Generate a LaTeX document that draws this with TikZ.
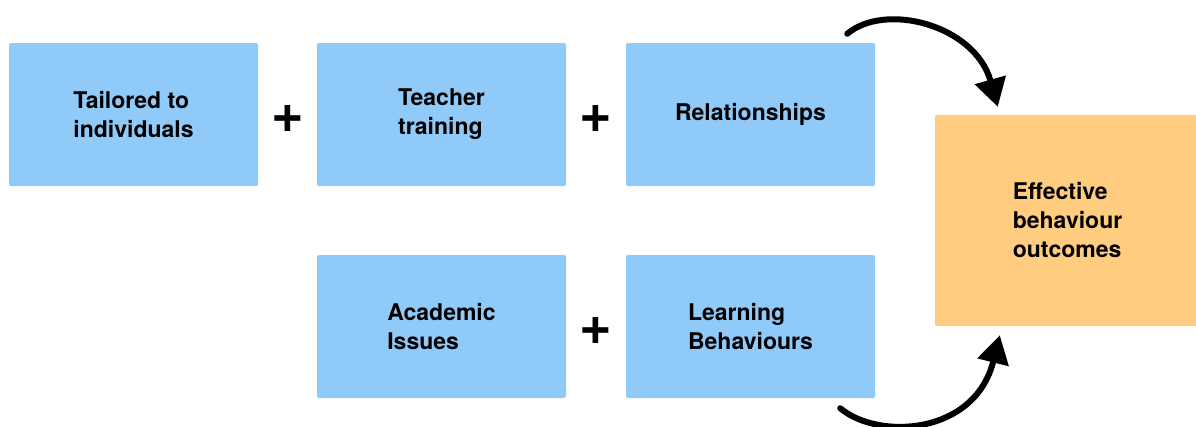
\documentclass[tikz,border=0pt]{standalone}
\usepackage{fontspec}
\setmainfont{TeX Gyre Heros}
\usetikzlibrary{arrows.meta,calc}
\definecolor{boxblue}{HTML}{90CAF9}
\definecolor{boxorange}{HTML}{FFCC80}
\tikzset{
	factor/.style={fill=boxblue, rounded corners=2pt, minimum width=249pt, minimum height=143pt, align=left, font=\fontsize{23}{29}\selectfont\bfseries},
	outcome/.style={factor, fill=boxorange, minimum width=265pt, minimum height=211pt},
	plus/.style={font=\fontsize{56}{56}\selectfont\bfseries},
	bend arrow/.style={line width=6pt, line cap=round, -{Triangle[length=28pt,width=31pt]}}
}

\begin{document}
\begin{tikzpicture}[x=1pt, y=-1pt]
		%%%%% START %%%%%
		\useasboundingbox (0, 0) rectangle (1196, 426);
		
		\node[factor] (tail) at (133.5, 114.5) {Tailored to\\individuals};
		\node[factor] (teach) at (441.5, 114.5) {Teacher\\training};
		\node[factor] (rel) at (750.5, 114.5) {Relationships};
		\node[factor] (acad) at (441.5, 326.5) {Academic\\Issues};
		\node[factor] (learn) at (750.5, 326.5) {Learning\\Behaviours};
		\node[outcome] (out) at (1067.5, 220.5) {Effective\\behaviour\\outcomes};
		
		\node[plus] (p1) at ($(tail.east)!0.5!(teach.west)+(0, 4)$) {+};
		\node[plus] (p2) at ($(teach.east)!0.5!(rel.west)+(0, 4)$) {+};
		\node[plus] (p3) at ($(acad.east)!0.5!(learn.west)+(0, 4)$) {+};
		
		\draw[bend arrow] ($(rel.north east)+(-28, -9)$) .. controls ($(rel.north east)+(10, -41)$) and ($(out.north west)+(40, -90)$) .. ($(out.north west)+(63, -8)$);
		\draw[bend arrow] ($(learn.south east)+(-35, 10)$) .. controls ($(learn.south east)+(3, 42)$) and ($(out.south west)+(40, 109)$) .. ($(out.south west)+(65, 9)$);
		
		%%%%% END %%%%%
	\end{tikzpicture}
\end{document}
